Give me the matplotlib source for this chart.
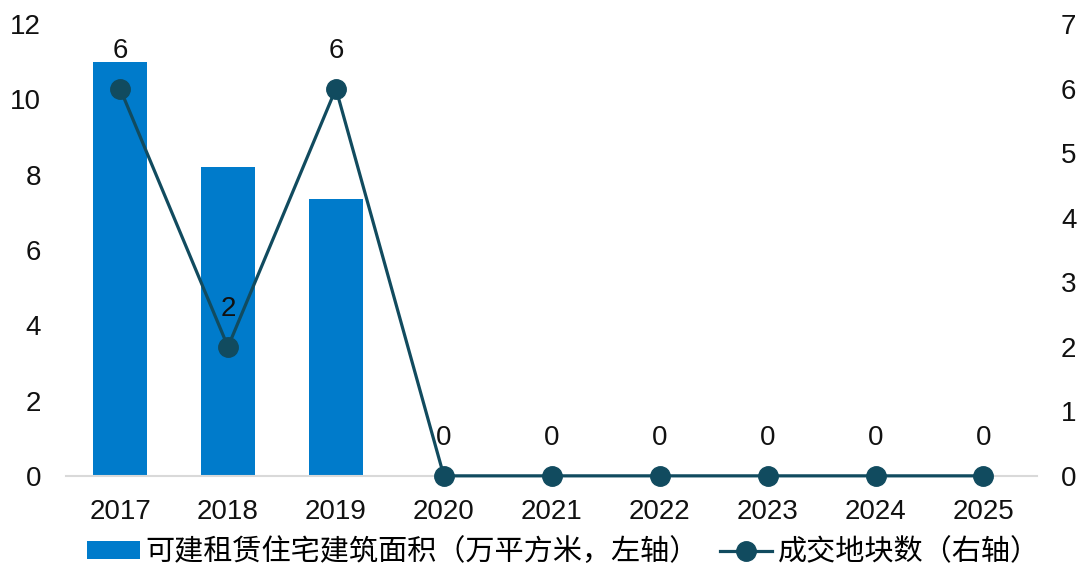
import matplotlib.pyplot as plt
import numpy as np

plt.rcParams['font.family'] = ['Liberation Sans', 'Noto Sans CJK SC', 'DejaVu Sans']

years = ['2017', '2018', '2019', '2020', '2021', '2022', '2023', '2024', '2025']
area = [11.0, 8.2, 7.35, 0, 0, 0, 0, 0, 0]       # 万平方米, left axis
plots = [6, 2, 6, 0, 0, 0, 0, 0, 0]               # 成交地块数, right axis

bar_color = '#007BCB'
line_color = '#114B5F'

fig = plt.figure(figsize=(10.84, 5.74), dpi=100)
ax = fig.add_axes([0.061, 0.171, 0.896, 0.787])
ax2 = ax.twinx()

x = np.arange(len(years))
ax.bar(x, area, width=0.5, color=bar_color, label='可建租赁住宅建筑面积（万平方米，左轴）', zorder=2)
ax2.plot(x, plots, color=line_color, lw=2.3, marker='o', markersize=14,
         label='成交地块数（右轴）', zorder=3, clip_on=False)

for xi, v in zip(x, plots):
    ax2.annotate(str(v), (xi, v), xytext=(0, 27), textcoords='offset points',
                 ha='center', va='center', fontsize=20, color='#111111')

ax.set_xlim(-0.5, len(years) - 0.5)
ax.set_ylim(0, 12)
ax.set_yticks(range(0, 13, 2))
ax2.set_ylim(0, 7)
ax2.set_yticks(range(0, 8))
ax.set_xticks(x)
ax.set_xticklabels(years)

for a in (ax, ax2):
    for s in a.spines.values():
        s.set_visible(False)
    a.tick_params(length=0, labelsize=20, colors='#111111')
ax.spines['bottom'].set_visible(True)
ax.spines['bottom'].set_color('#d9d9d9')
ax.spines['bottom'].set_linewidth(1.5)
ax.tick_params(axis='y', pad=18)
ax.tick_params(axis='x', pad=17)
ax2.tick_params(axis='y', pad=17)

h1, l1 = ax.get_legend_handles_labels()
h2, l2 = ax2.get_legend_handles_labels()
fig.legend(h1 + h2, l1 + l2, loc='center', bbox_to_anchor=(0.52, 0.038), ncol=2,
           frameon=False, fontsize=21, handlelength=1.8, handleheight=0.55,
           columnspacing=0.7, handletextpad=0.2)

fig.savefig('out.png', dpi=100)
